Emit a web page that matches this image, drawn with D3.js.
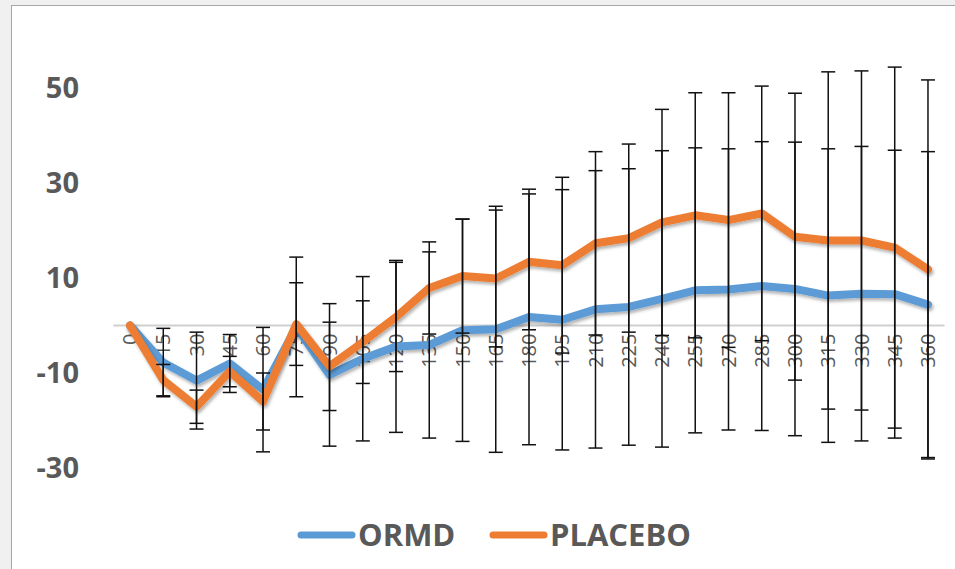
<!DOCTYPE html>
<html>
<head>
<meta charset="utf-8">
<script src="https://cdn.jsdelivr.net/npm/d3@7"></script>
<style>
  body { margin: 0; background: #f0f0f0; }
  .xaxis text { font-family: "Open Sans", sans-serif; font-size: 20px; fill: #595959; }
  .yaxis text { font-family: "Open Sans", sans-serif; font-size: 29px; font-weight: bold; fill: #595959; }
  .legend text { font-family: "Open Sans", sans-serif; font-size: 31px; font-weight: bold; fill: #595959; }
</style>
</head>
<body>
<div class="chart"></div>
<script>
// DATA (minutes, mean change and error bar size for each group)
let times = ["0","15","30","45","60","75","90","105","120","135","150","165","180","195","210","225","240","255","270","285","300","315","330","345","360"];
let ormd = [0, -7.8, -11.6, -8, -13.5, -0.3, -10.4, -7, -4.4, -4.1, -1, -0.8, 1.8, 1.2, 3.4, 3.9, 5.6, 7.4, 7.6, 8.3, 7.7, 6.3, 6.7, 6.6, 4.4];
let ormdErr = [0, 7.2, 10.2, 6.1, 13.1, 14.7, 15, 17.3, 18.1, 19.6, 23.4, 25.9, 26.9, 27.4, 29.2, 29.1, 31.2, 30, 29.6, 30.4, 30.9, 30.9, 31, 30.3, 32.2];
let placebo = [0, -11.5, -17.1, -9.7, -16, 0.3, -8.6, -3.5, 1.8, 7.9, 10.4, 9.9, 13.4, 12.7, 17.3, 18.4, 21.7, 23.2, 22.2, 23.6, 18.7, 17.9, 17.9, 16.4, 11.8];
let placeboErr = [0, 3.3, 3.5, 3.2, 6, 8.7, 9.3, 8.7, 11.5, 9.7, 12, 14.4, 14.3, 18.5, 19.3, 19.8, 23.8, 25.8, 26.8, 26.8, 30.2, 35.5, 35.7, 38, 39.9];
let yTicks = [-30, -10, 10, 30, 50];

let seriesNames = ["ORMD", "PLACEBO"];
let colors = ["#5b9bd5", "#ed7d31"];

//CHART INIT
let outerWidth = 955;
let outerHeight = 569;

let svg = d3.select('.chart').append('svg')
    .attr('width', outerWidth)
    .attr('height', outerHeight)
    .style('display', 'block');

// drop shadow like the excel line effect
let defs = svg.append('defs');
defs.append('filter')
    .attr('id', 'shadow')
    .attr('x', '-10%').attr('y', '-10%').attr('width', '120%').attr('height', '120%')
    .append('feDropShadow')
    .attr('dx', 1.5).attr('dy', 2.5)
    .attr('stdDeviation', 1.5)
    .attr('flood-color', '#000')
    .attr('flood-opacity', 0.3);

// chart area with border
svg.append('rect')
    .attr('x', 11.5)
    .attr('y', 5.5)
    .attr('width', 960)
    .attr('height', 580)
    .attr('fill', '#fff')
    .attr('stroke', '#a6a6a6')
    .attr('stroke-width', 1);

const xScale = d3.scaleBand()
    .domain(times)
    .range([113.4, 944.6]);

const yScale = d3.scaleLinear()
    .domain([-30, 50])
    .range([468, 88]);

let xc = d => xScale(d) + xScale.bandwidth() / 2;

// y axis labels only (plain hyphen for negatives)
let yAxis = d3.axisLeft(yScale).tickValues(yTicks).tickSize(0).tickPadding(0)
    .tickFormat(d => String(d));
svg.append('g')
    .attr('class', 'yaxis')
    .attr('transform', 'translate(79,0)')
    .call(yAxis)
    .call(g => g.select('.domain').remove());

// horizontal axis line at zero
svg.append('line')
    .attr('x1', 113.4)
    .attr('x2', 944.6)
    .attr('y1', yScale(0))
    .attr('y2', yScale(0))
    .attr('stroke', '#d0d0d0')
    .attr('stroke-width', 2);

// x axis labels, rotated
let xAxis = d3.axisBottom(xScale).tickSize(0);
svg.append('g')
    .attr('class', 'xaxis')
    .attr('transform', `translate(0, ${yScale(0)})`)
    .call(xAxis)
    .call(g => g.select('.domain').remove())
    .selectAll('text')
    .attr('transform', 'rotate(-90)')
    .attr('x', -8)
    .attr('y', 0)
    .attr('dy', '0.36em')
    .style('text-anchor', 'end');

let series = [
    {name: seriesNames[0], values: ormd, err: ormdErr, color: colors[0]},
    {name: seriesNames[1], values: placebo, err: placeboErr, color: colors[1]}
];

let line = d3.line()
    .x((d, i) => xc(times[i]))
    .y(d => yScale(d));

svg.selectAll('.series')
    .data(series)
    .enter()
    .append('path')
    .attr('class', 'series')
    .attr('d', s => line(s.values))
    .attr('fill', 'none')
    .attr('stroke', s => s.color)
    .attr('stroke-width', 8)
    .attr('stroke-linejoin', 'round')
    .attr('stroke-linecap', 'round')
    .attr('filter', 'url(#shadow)');

// error bars (plus and minus) for both series
let bars = [];
series.forEach(s => {
    s.values.forEach((v, i) => {
        if (s.err[i] > 0) bars.push({t: times[i], lo: v - s.err[i], hi: v + s.err[i]});
    });
});

let eb = svg.append('g').attr('class', 'errorbars')
    .attr('stroke', '#111')
    .attr('stroke-width', 1.5);

let capW = 7;
let g = eb.selectAll('g').data(bars).enter().append('g');
g.append('line')
    .attr('x1', d => xc(d.t)).attr('x2', d => xc(d.t))
    .attr('y1', d => yScale(d.hi)).attr('y2', d => yScale(d.lo));
g.append('line')
    .attr('x1', d => xc(d.t) - capW).attr('x2', d => xc(d.t) + capW)
    .attr('y1', d => yScale(d.hi)).attr('y2', d => yScale(d.hi));
g.append('line')
    .attr('x1', d => xc(d.t) - capW).attr('x2', d => xc(d.t) + capW)
    .attr('y1', d => yScale(d.lo)).attr('y2', d => yScale(d.lo));

// legend
let legend = svg.append('g').attr('class', 'legend');
let legendX = [298, 490];
series.forEach((s, i) => {
    legend.append('line')
        .attr('x1', legendX[i] + 3).attr('x2', legendX[i] + 54)
        .attr('y1', 535).attr('y2', 535)
        .attr('stroke', s.color)
        .attr('stroke-width', 7)
        .attr('stroke-linecap', 'round');
    legend.append('text')
        .attr('x', legendX[i] + 60)
        .attr('y', 546)
        .text(s.name);
});
</script>
</body>
</html>
